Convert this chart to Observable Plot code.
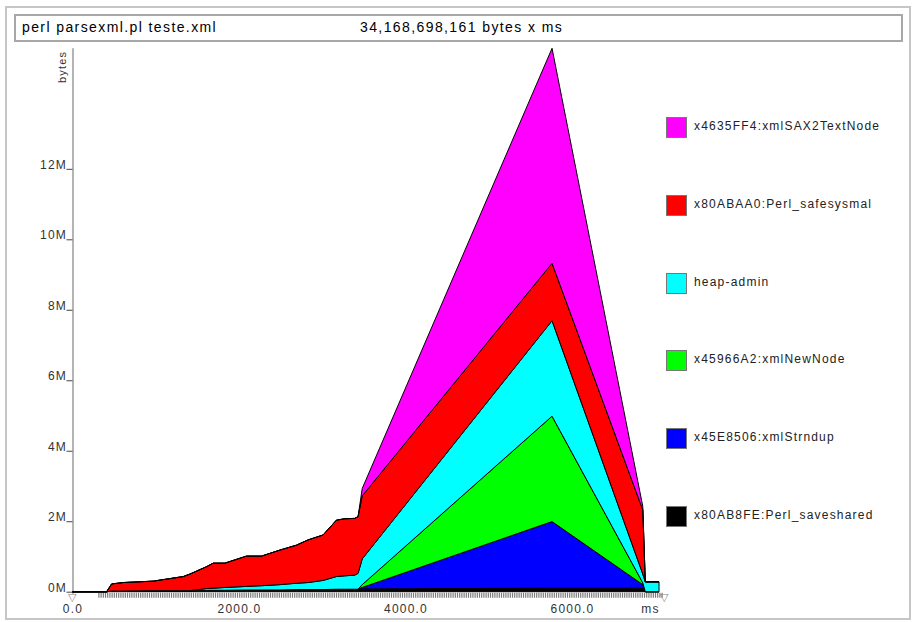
<!DOCTYPE html>
<html>
<head>
<meta charset="utf-8">
<script src="https://cdn.jsdelivr.net/npm/d3@7"></script>
<script src="https://cdn.jsdelivr.net/npm/@observablehq/plot@0.6"></script>
<style>
  body { margin: 0; background: #fff; font-family: "Liberation Sans", Arial, sans-serif; }
  #wrap { position: relative; width: 916px; height: 622px; overflow: hidden; background: #fff; }
  #frame { position: absolute; left: 5px; top: 6px; width: 902px; height: 610px; border: 2px solid #c6c6c6; pointer-events: none; }
  #title { position: absolute; left: 14px; top: 14px; width: 885px; height: 24px; border: 2px solid #a8a8a8; font-size: 14px; letter-spacing: 1.4px; color: #000; }
  #title span { position: absolute; top: 3px; white-space: nowrap; }
  #chart { position: absolute; left: 0; top: 44px; }
  #chart svg text { letter-spacing: 1.2px; }
  .item { position: absolute; left: 666px; height: 21px; }
  .sw { position: absolute; left: 0; top: 0; width: 19px; height: 19px; border: 1px solid #777; }
  .lb { position: absolute; left: 28px; top: 2px; font-size: 12px; letter-spacing: 1.2px; white-space: nowrap; color: #222; }
</style>
</head>
<body>
<div id="wrap">
  <div id="chart"></div>
  <div id="title"><span style="left:6px">perl parsexml.pl teste.xml</span><span style="left:344px">34,168,698,161 bytes x ms</span></div>
  <div id="legend"></div>
  <div id="frame"></div>
</div>
<script>
// snapshot times (ms)
const times = [0, 410, 470, 610, 970, 1330, 1410, 1610, 1690, 1830, 2090, 2270, 2490, 2690, 2830, 3010, 3170, 3270, 3390, 3430, 3480, 5760, 6850, 6880, 7045];

// heap per allocation site (MB) at each snapshot, bottom to top of the stack
const perlSaveshared  = [0, 0, 0.02, 0.02, 0.03, 0.03, 0.03, 0.04, 0.04, 0.04, 0.05, 0.05, 0.05, 0.06, 0.06, 0.06, 0.07, 0.07, 0.07, 0.07, 0.08, 0.10, 0.10, 0, 0];
const xmlStrndup      = [0, 0, 0, 0, 0, 0, 0, 0, 0, 0, 0, 0, 0, 0, 0, 0, 0, 0, 0, 0, 0.04, 1.89, 0.10, 0, 0];
const xmlNewNode      = [0, 0, 0, 0, 0, 0, 0, 0, 0, 0, 0, 0, 0, 0, 0, 0, 0, 0, 0, 0, 0.08, 2.99, 0.05, 0, 0];
const heapAdmin       = [0, 0, 0, 0, 0, 0, 0, 0.05, 0.06, 0.08, 0.10, 0.12, 0.15, 0.18, 0.20, 0.26, 0.36, 0.38, 0.40, 0.45, 0.73, 2.71, 0.25, 0.28, 0.28];
const perlSafesysmal  = [0, 0, 0.20, 0.24, 0.27, 0.40, 0.47, 0.62, 0.71, 0.69, 0.86, 0.84, 0.98, 1.08, 1.21, 1.29, 1.60, 1.62, 1.61, 1.61, 1.79, 1.63, 1.82, 0, 0];
const xmlSAX2TextNode = [0, 0, 0, 0, 0, 0, 0, 0, 0, 0, 0, 0, 0, 0, 0, 0, 0, 0, 0, 0, 0.21, 6.10, 0.10, 0, 0];

const seriesNames  = ["x80AB8FE:Perl_saveshared", "x45E8506:xmlStrndup", "x45966A2:xmlNewNode", "heap-admin", "x80ABAA0:Perl_safesysmal", "x4635FF4:xmlSAX2TextNode"];
const seriesColors = ["#000000", "#0000ff", "#00ff00", "#00ffff", "#ff0000", "#ff00ff"];
const seriesValues = [perlSaveshared, xmlStrndup, xmlNewNode, heapAdmin, perlSafesysmal, xmlSAX2TextNode];

const yTicks = [0, 2, 4, 6, 8, 10, 12];
const xTicks = [0, 2000, 4000, 6000];
const yMax = 15.42;        // peak total (MB)
const xMax = 7100;         // end of time axis (ms)
const firstSample = 310;   // start of sample markers (ms)

const rows = [];
seriesNames.forEach((name, s) => {
  times.forEach((t, i) => rows.push({series: name, t, v: seriesValues[s][i]}));
});

const chart = Plot.plot({
  width: 916,
  height: 578,
  marginLeft: 72.5,
  marginRight: 252.4,
  marginTop: 4.3,
  marginBottom: 30.3,
  style: {fontFamily: "'Liberation Sans', Arial, sans-serif", fontSize: "12px", color: "#333", background: "transparent", overflow: "visible"},
  x: {domain: [0, xMax]},
  y: {domain: [0, yMax]},
  color: {domain: seriesNames, range: seriesColors},
  marks: [
    Plot.ruleX([0], {stroke: "#b4b4b4", strokeWidth: 2, insetBottom: -2}),
    Plot.ruleY([0], {x1: firstSample, x2: xMax, dy: 3, stroke: "#7a7a7a", strokeWidth: 5, strokeDasharray: "1.2,1"}),
    Plot.text([0, xMax], {x: d => d, y: 0, text: () => "▽", dy: 5, fontSize: 11, fill: "#888"}),
    Plot.areaY(rows, {x: "t", y: "v", z: "series", fill: "series", order: seriesNames, stroke: "#000", strokeWidth: 1, strokeLinejoin: "round", curve: "linear"}),
    Plot.axisY({ticks: yTicks, tickFormat: () => "", tickSize: 6, stroke: "#444", label: null}),
    Plot.axisY({ticks: yTicks, tickFormat: d => d + "M", tickSize: 0, tickPadding: 6, dy: -4.5, fill: "#333", label: null}),
    Plot.axisX({ticks: xTicks, tickFormat: d => d.toFixed(1), tickSize: 0, tickPadding: 12, fill: "#333", label: null}),
    Plot.text(["bytes"], {frameAnchor: "top-left", rotate: -90, textAnchor: "end", lineAnchor: "bottom", dx: -7, dy: 2, fontSize: 11, fill: "#333"}),
    Plot.text(["ms"], {frameAnchor: "bottom-right", textAnchor: "middle", lineAnchor: "top", dx: -13.6, dy: 12, fontSize: 12, fill: "#333"})
  ]
});
document.getElementById("chart").appendChild(chart);

// legend, top to bottom = top of stack first
const legend = document.getElementById("legend");
const legendTop = 117, legendStep = 77.8;
[...seriesNames].reverse().forEach((name, i) => {
  const color = seriesColors[seriesNames.indexOf(name)];
  const item = document.createElement("div");
  item.className = "item";
  item.style.top = (legendTop + i * legendStep) + "px";
  item.innerHTML = `<div class="sw" style="background:${color}"></div><div class="lb">${name}</div>`;
  legend.appendChild(item);
});
</script>
</body>
</html>
